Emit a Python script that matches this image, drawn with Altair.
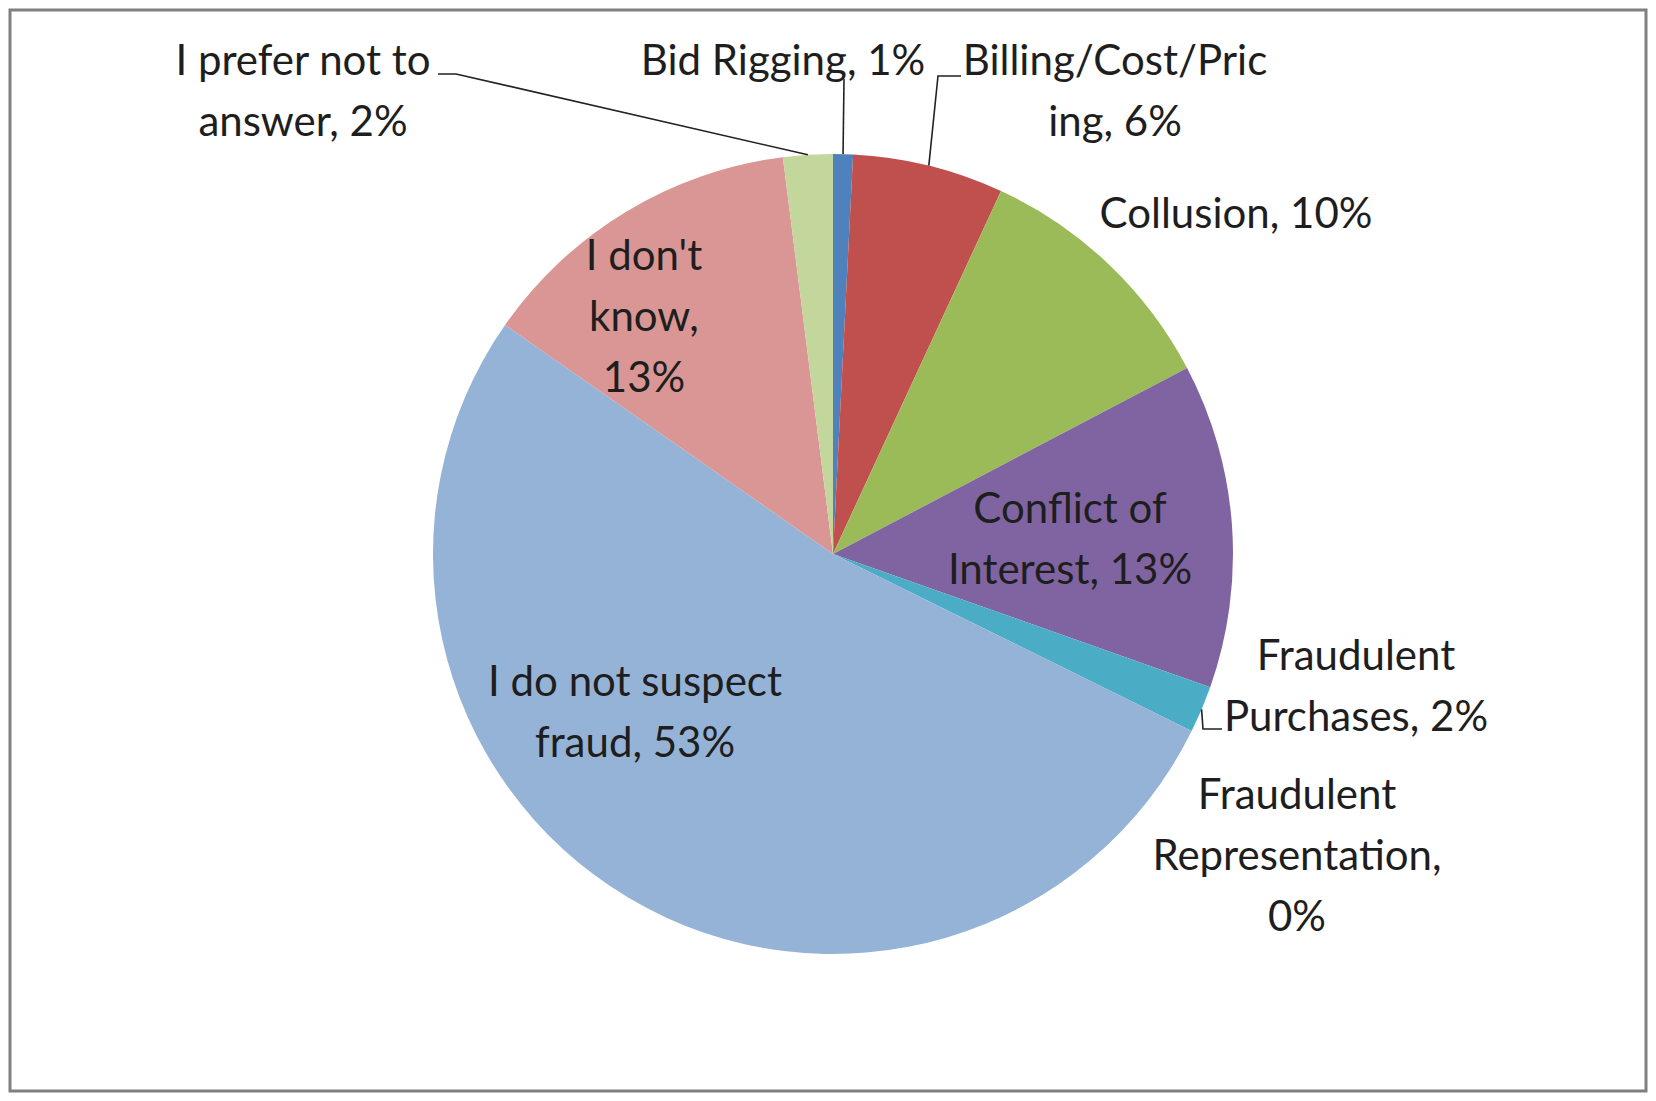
import altair as alt
import numpy as np
import pandas as pd

# ---- data ----
categories = [
    "Bid Rigging",
    "Billing/Cost/Pricing",
    "Collusion",
    "Conflict of Interest",
    "Fraudulent Purchases",
    "Fraudulent Representation",
    "I do not suspect fraud",
    "I don't know",
    "I prefer not to answer",
]
shares = [0.8, 6.1, 10.4, 13.1, 1.9, 0.0, 52.4, 13.3, 2.0]
label_texts = [
    "Bid Rigging, 1%",
    "Billing/Cost/Pric\ning, 6%",
    "Collusion, 10%",
    "Conflict of\nInterest, 13%",
    "Fraudulent\nPurchases, 2%",
    "Fraudulent\nRepresentation,\n0%",
    "I do not suspect\nfraud, 53%",
    "I don't\nknow,\n13%",
    "I prefer not to\nanswer, 2%",
]
colors = ["#4F81BD", "#C0504D", "#9BBB59", "#8064A2", "#4BACC6",
          "#F79646", "#95B3D7", "#D99694", "#C3D69B"]

# ---- layout (pixels inside the view; y = centre of first text line) ----
W, H = 1636, 1081
CX, CY, R = 823, 544, 400
FONT = "Lato"
label_pos = {
    "Bid Rigging": (773, 52),
    "Billing/Cost/Pricing": (1105, 52),
    "Collusion": (1226, 205),
    "Conflict of Interest": (1060, 500),
    "Fraudulent Purchases": (1346, 647),
    "Fraudulent Representation": (1287, 786),
    "I do not suspect fraud": (625, 673),
    "I don't know": (634, 247),
    "I prefer not to answer": (293, 52),
}
leader_start = {
    "I prefer not to answer": [(428, 64), (446, 64)],
    "Bid Rigging": [(834, 69)],
    "Billing/Cost/Pricing": [(951, 66), (928, 66)],
    "Fraudulent Purchases": [(1212, 719), (1193, 719)],
}

df = pd.DataFrame({"category": categories, "share": shares, "idx": range(len(categories))})

lab_df = pd.DataFrame({
    "category": categories,
    "text": label_texts,
    "x": [label_pos[c][0] for c in categories],
    "y": [label_pos[c][1] for c in categories],
})

# leader lines end at the pie edge at the middle of each slice
sh = np.array(shares, dtype=float)
cum = np.cumsum(sh)
mid = (cum - sh / 2) / sh.sum() * 2 * np.pi
rows = []
for c, pts in leader_start.items():
    i = categories.index(c)
    allpts = list(pts) + [(CX + R * np.sin(mid[i]), CY - R * np.cos(mid[i]))]
    for k, (px, py) in enumerate(allpts):
        rows.append({"category": c, "step": k, "x": float(px), "y": float(py)})
lead_df = pd.DataFrame(rows)

pie = alt.Chart(df).mark_arc(radius=R).encode(
    theta=alt.Theta("share:Q", stack=True),
    color=alt.Color("category:N", scale=alt.Scale(domain=categories, range=colors), legend=None),
    order=alt.Order("idx:Q"),
    x=alt.value(CX),
    y=alt.value(CY),
)

leaders = alt.Chart(lead_df).mark_line(color="#222222", strokeWidth=1.6).encode(
    x=alt.X("x:Q", scale=None, axis=None),
    y=alt.Y("y:Q", scale=None, axis=None),
    detail="category:N",
    order="step:Q",
)

labels = alt.Chart(lab_df).mark_text(
    font=FONT, fontSize=42, lineBreak="\n", lineHeight=61,
    align="center", baseline="middle", color="#1e1e1e",
).encode(
    x=alt.X("x:Q", scale=None, axis=None),
    y=alt.Y("y:Q", scale=None, axis=None),
    text="text:N",
)

chart = alt.layer(pie, leaders, labels).properties(
    width=W, height=H, padding=2, autosize="none", background="white"
).configure_view(stroke="#808080", strokeWidth=3)

chart.save("out.html", embed_options={"renderer": "svg", "actions": False})
